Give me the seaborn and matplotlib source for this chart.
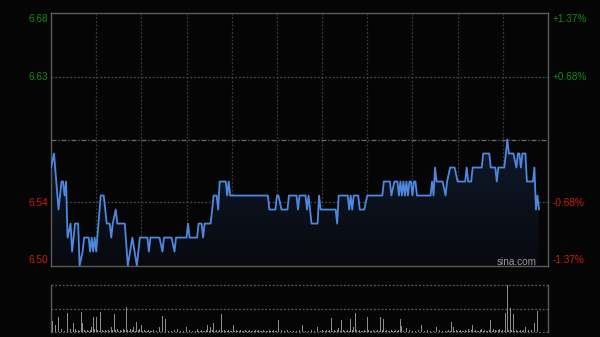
import numpy as np
import pandas as pd
import matplotlib
matplotlib.use("Agg")
import matplotlib.pyplot as plt
import seaborn as sns
from matplotlib.patches import Polygon
from matplotlib.colors import LinearSegmentedColormap

# ---------------- data ----------------
prev_close = 6.59
pct_labels_right = ["+1.37%", "+0.68%", "-0.68%", "-1.37%"]
price_labels_left = ["6.68", "6.63", "6.54", "6.50"]

minutes = [0, 2, 5, 7, 8, 9, 10, 11, 13, 14, 16, 18, 19, 21, 22, 25, 26, 27, 28, 29,
           30, 33, 35, 37, 39, 40, 41, 43, 44, 49, 51, 54, 57, 59, 64, 65, 66, 72, 74, 75,
           80, 82, 83, 90, 91, 92, 97, 98, 100, 101, 102, 106, 108, 110, 111, 112, 116, 117, 118, 119,
           144, 145, 149, 150, 151, 153, 157, 158, 163, 164, 165, 169, 170, 171, 173, 177, 178, 179, 189, 190,
           191, 197, 198, 199, 200, 201, 204, 205, 208, 210, 220, 221, 225, 226, 228, 230, 231, 232, 233, 234,
           235, 236, 237, 238, 239, 240, 241, 242, 243, 252, 253, 254, 255, 256, 260, 262, 263, 265, 268, 270,
           275, 276, 277, 279, 280, 286, 287, 291, 292, 295, 296, 297, 301, 302, 303, 304, 307, 309, 310, 311,
           312, 313, 315, 316, 320, 321, 322, 323, 324]
prices = [6.57, 6.58, 6.54, 6.56, 6.56, 6.55, 6.56, 6.52, 6.53, 6.51, 6.53, 6.53, 6.50, 6.51, 6.52, 6.52, 6.51, 6.52, 6.51, 6.52,
          6.51, 6.55, 6.55, 6.53, 6.53, 6.52, 6.53, 6.54, 6.53, 6.53, 6.50, 6.52, 6.50, 6.52, 6.52, 6.51, 6.52, 6.52, 6.51, 6.52,
          6.52, 6.51, 6.52, 6.52, 6.53, 6.52, 6.52, 6.53, 6.53, 6.52, 6.53, 6.53, 6.55, 6.55, 6.54, 6.56, 6.56, 6.55, 6.56, 6.55,
          6.55, 6.54, 6.54, 6.55, 6.55, 6.54, 6.54, 6.55, 6.55, 6.54, 6.55, 6.55, 6.54, 6.55, 6.53, 6.53, 6.55, 6.54, 6.54, 6.53,
          6.55, 6.55, 6.54, 6.55, 6.54, 6.55, 6.55, 6.54, 6.54, 6.55, 6.55, 6.56, 6.56, 6.55, 6.56, 6.56, 6.55, 6.56, 6.55, 6.56,
          6.55, 6.56, 6.55, 6.56, 6.56, 6.55, 6.56, 6.56, 6.55, 6.55, 6.56, 6.55, 6.57, 6.56, 6.56, 6.55, 6.56, 6.57, 6.57, 6.56,
          6.56, 6.57, 6.56, 6.56, 6.57, 6.57, 6.58, 6.58, 6.57, 6.57, 6.56, 6.57, 6.57, 6.58, 6.59, 6.58, 6.58, 6.57, 6.58, 6.58,
          6.57, 6.58, 6.58, 6.56, 6.56, 6.57, 6.54, 6.55, 6.54]

volume = [
    2, 11, 3, 7, 2, 15, 4, 3, 2, 1, 2, 19, 2, 3, 4, 9, 3, 1, 2, 1, 20, 9, 2, 1, 2,
    1, 2, 5, 15, 3, 15, 2, 1, 20, 2, 1, 2, 1, 2, 1, 5, 2, 18, 2, 3, 1, 2, 1, 3, 2,
    25, 2, 1, 3, 2, 5, 1, 10, 2, 3, 7, 1, 2, 1, 1, 2, 1, 1, 2, 1, 1, 2, 5, 2, 16,
    2, 13, 1, 1, 2, 1, 1, 2, 1, 3, 1, 1, 2, 1, 2, 5, 5, 2, 1, 1, 2, 1, 3, 1, 1,
    2, 1, 1, 2, 7, 1, 5, 2, 9, 1, 2, 1, 2, 18, 1, 2, 1, 1, 2, 1, 1, 7, 1, 2, 1,
    1, 2, 1, 1, 2, 1, 1, 2, 1, 1, 1, 2, 1, 2, 1, 1, 2, 1, 1, 1, 2, 1, 1, 2, 1,
    1, 12, 1, 2, 1, 1, 1, 2, 1, 1, 3, 1, 2, 1, 1, 2, 1, 7, 6, 1, 2, 1, 1, 2, 1,
    1, 2, 5, 6, 1, 2, 1, 1, 2, 1, 2, 14, 1, 2, 1, 2, 4, 1, 12, 2, 1, 1, 2, 1, 13,
    2, 5, 19, 2, 1, 2, 1, 1, 2, 1, 15, 2, 1, 1, 2, 1, 1, 2, 1, 15, 2, 13, 1, 2, 1,
    1, 2, 1, 1, 2, 1, 2, 13, 6, 1, 2, 4, 1, 2, 3, 1, 2, 1, 1, 2, 1, 7, 2, 1, 1,
    2, 1, 1, 2, 1, 14, 5, 1, 2, 1, 1, 2, 1, 1, 2, 1, 10, 5, 1, 2, 1, 1, 2, 1, 1,
    2, 1, 3, 1, 2, 7, 1, 2, 1, 1, 2, 3, 1, 2, 1, 1, 2, 12, 1, 3, 2, 1, 2, 3, 1,
    2, 1, 19, 47, 2, 24, 2, 18, 1, 2, 1, 1, 2, 1, 2, 5, 1, 2, 1, 2, 1, 9, 2, 21, 2,
]
vol_minutes = list(range(len(volume)))

# ---------------- style ----------------
sns.set_style("dark")
plt.rcParams["font.family"] = ["Liberation Sans", "DejaVu Sans"]
BG = "#050505"
GREEN = "#138a13"
RED = "#c81e0a"
LINE = "#4d88e0"
FRAME = "#5a5a5a"
GRID = "#3a3a3a"

W, H = 600, 337
fig = plt.figure(figsize=(6, 3.37), dpi=100, facecolor=BG)

def fx(px):
    return px / W

def fy(py):
    return 1 - py / H

ax = fig.add_axes([fx(51), fy(266), fx(548) - fx(51), fy(13) - fy(266)])
axv = fig.add_axes([fx(51), fy(332), fx(548) - fx(51), fy(285) - fy(332)])

ylo = prev_close * (1 - 0.0137)
yhi = prev_close * (1 + 0.0137)
N_MIN = 330

for a in (ax, axv):
    a.set_facecolor(BG)
    a.set_xlim(0, N_MIN)
    a.set_xticks([])
    a.set_yticks([])
    a.grid(False)

ax.set_ylim(ylo, yhi)

# vertical grid lines every 30 minutes
for t in range(30, N_MIN, 30):
    ax.axvline(t, color=GRID, lw=0.9, ls=(0, (1.5, 1.5)), zorder=1)
    axv.axvline(t, color=BG, lw=0, zorder=0)
# horizontal grid lines
for pct in (0.0068, -0.0068):
    ax.axhline(prev_close * (1 + pct), color="#4a4a4a", lw=0.9, ls=(0, (1.5, 1.5)), zorder=1)
ax.axhline(prev_close, color="#6a6a6a", lw=0.9, ls=(0, (4, 1.5, 1, 1.5)), zorder=1)

for s in ax.spines.values():
    s.set_color(FRAME)
    s.set_linewidth(1.0)
    s.set_visible(True)

# gradient fill under the price line
df = pd.DataFrame({"minute": minutes, "price": prices})
verts = list(zip(df["minute"], df["price"])) + [(df["minute"].iloc[-1], ylo), (df["minute"].iloc[0], ylo)]
poly = Polygon(verts, closed=True, facecolor="none", edgecolor="none")
ax.add_patch(poly)
cmap = LinearSegmentedColormap.from_list("f", ["#07090d", "#101a2c"])
grad = np.linspace(0, 1, 256).reshape(-1, 1)
img = ax.imshow(grad, extent=[0, N_MIN, ylo, max(prices)], origin="lower", aspect="auto",
                cmap=cmap, zorder=2)
img.set_clip_path(poly)

sns.lineplot(data=df, x="minute", y="price", ax=ax, color=LINE, lw=1.3, zorder=3)
ax.set_xlim(0, N_MIN)
ax.set_ylim(ylo, yhi)
ax.set_xlabel("")
ax.set_ylabel("")

# watermark
ax.text(fx(537) * W, 0, "", transform=ax.transData)
fig.text(fx(537), fy(262), "sina.com", color="#9a9a9a", fontsize=7.2, ha="right", va="center")

# price / percent labels
label_y = [19, 77, 203, 260]
label_col = [GREEN, GREEN, RED, RED]
for lab, yy, c in zip(price_labels_left, label_y, label_col):
    fig.text(fx(48), fy(yy), lab, color=c, fontsize=7.2, ha="right", va="center")
for lab, yy, c in zip(pct_labels_right, label_y, label_col):
    fig.text(fx(553), fy(yy), lab, color=c, fontsize=7.2, ha="left", va="center")

# ---------------- volume ----------------
vmax = max(volume)
vdf = pd.DataFrame({"minute": vol_minutes, "vol": volume})
sns.barplot(data=vdf, x="minute", y="vol", ax=axv, native_scale=True, color="#8c8c8c",
            width=0.55, errorbar=None, saturation=1, linewidth=0, zorder=3)
axv.set_xlim(0, N_MIN)
axv.set_ylim(0, vmax)
axv.set_xlabel("")
axv.set_ylabel("")
axv.set_xticks([])
axv.set_yticks([])
for yv in (vmax, vmax / 2, 0):
    axv.axhline(yv, color="#5a5a5a", lw=0.9, ls=(0, (1.5, 1.5)), zorder=1, clip_on=False)
for k, s in axv.spines.items():
    s.set_color(FRAME)
    s.set_linewidth(1.0)
    s.set_visible(k in ("left", "right"))

fig.savefig("out.png", dpi=100, facecolor=BG)
